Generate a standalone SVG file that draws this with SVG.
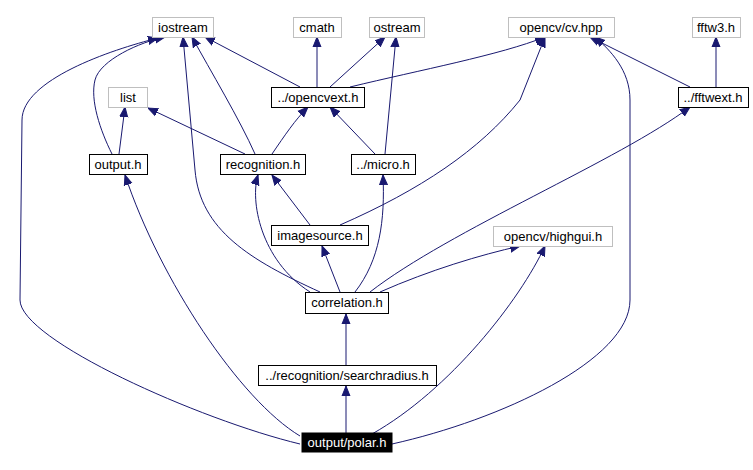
<svg xmlns="http://www.w3.org/2000/svg" width="753" height="470" viewBox="0 0 753 470">
<style>
.n rect{fill:#fff;stroke:#000;stroke-width:1}
.g rect{stroke:#bfbfbf}
.n text{font-family:"Liberation Sans",Arial,sans-serif;font-size:13px;text-anchor:middle;fill:#000}
#polar rect{fill:#000}
#polar text{fill:#fff}
.e path{fill:none;stroke:#191970;stroke-width:1;marker-end:url(#a)}
</style>
<defs><marker id="a" viewBox="0 0 10 10" refX="10" refY="5" markerWidth="10" markerHeight="10" markerUnits="userSpaceOnUse" orient="auto"><path d="M0,1 L10,5 L0,9 Z" fill="#191970" stroke="#191970"/></marker></defs>
<rect width="753" height="470" fill="#fff"/>
<g class="e">
<path d="M300,444 C200,420 20,340 20,300 L22,120 C22,80 110,50 158,38"/>
<path d="M300,436 C240,400 160,280 125,175"/>
<path d="M346,434 L346,386"/>
<path d="M372,434 C450,390 520,300 545,246"/>
<path d="M392,444 C500,420 630,360 630,300 L630,100 C630,70 610,50 595,37"/>
<path d="M346,365 L346,314"/>
<path d="M320,292 C250,260 200,230 195,170 L183,37"/>
<path d="M310,292 C260,260 250,200 258,175"/>
<path d="M340,292 L322,246"/>
<path d="M355,292 C380,260 385,220 383,175"/>
<path d="M380,292 C430,270 480,255 520,246"/>
<path d="M370,292 C450,230 620,160 690,107"/>
<path d="M310,225 L272,175"/>
<path d="M340,225 C420,190 480,150 520,100 L545,37"/>
<path d="M255,154 C240,120 210,70 192,37"/>
<path d="M245,154 L148,108"/>
<path d="M272,154 C285,135 295,120 308,107"/>
<path d="M112,154 C100,130 90,100 95,80 C100,60 140,42 165,37"/>
<path d="M119,154 L125,107"/>
<path d="M375,154 L330,107"/>
<path d="M385,154 L396,37"/>
<path d="M300,87 L205,37"/>
<path d="M317,87 L317,37"/>
<path d="M330,87 L385,37"/>
<path d="M350,87 C420,70 500,55 545,37"/>
<path d="M690,87 L590,37"/>
<path d="M716,87 L716,37"/>
</g>
<g id="iostream" class="n g"><rect x="152.5" y="17.5" width="61" height="20"/><text x="183" y="32">iostream</text></g>
<g id="cmath" class="n g"><rect x="293.5" y="17.5" width="48" height="20"/><text x="317" y="32">cmath</text></g>
<g id="ostream" class="n g"><rect x="369.5" y="17.5" width="55" height="20"/><text x="397" y="32">ostream</text></g>
<g id="cvhpp" class="n g"><rect x="508.5" y="17.5" width="106" height="20"/><text x="561" y="32">opencv/cv.hpp</text></g>
<g id="fftw3" class="n g"><rect x="692.5" y="17.5" width="48" height="20"/><text x="716" y="32">fftw3.h</text></g>
<g id="list" class="n g"><rect x="108.5" y="87.5" width="39" height="20"/><text x="128" y="102">list</text></g>
<g id="opencvext" class="n"><rect x="271.5" y="87.5" width="93" height="20"/><text x="318" y="102">../opencvext.h</text></g>
<g id="fftwext" class="n"><rect x="678.5" y="87.5" width="70" height="20"/><text x="713" y="102">../fftwext.h</text></g>
<g id="output" class="n"><rect x="89.5" y="154.5" width="58" height="20"/><text x="118" y="169">output.h</text></g>
<g id="recognition" class="n"><rect x="220.5" y="154.5" width="85" height="20"/><text x="263" y="169">recognition.h</text></g>
<g id="micro" class="n"><rect x="351.5" y="154.5" width="64" height="20"/><text x="383" y="169">../micro.h</text></g>
<g id="imagesource" class="n"><rect x="271.5" y="225.5" width="97" height="20"/><text x="320" y="240">imagesource.h</text></g>
<g id="highgui" class="n g"><rect x="493.5" y="226.5" width="119" height="20"/><text x="553" y="241">opencv/highgui.h</text></g>
<g id="correlation" class="n"><rect x="305.5" y="292.5" width="83" height="21"/><text x="347" y="307">correlation.h</text></g>
<g id="searchradius" class="n"><rect x="258.5" y="365.5" width="178" height="20"/><text x="347" y="380">../recognition/searchradius.h</text></g>
<g id="polar" class="n"><rect x="302" y="433" width="90" height="19"/><text x="347" y="447">output/polar.h</text></g>
</svg>
